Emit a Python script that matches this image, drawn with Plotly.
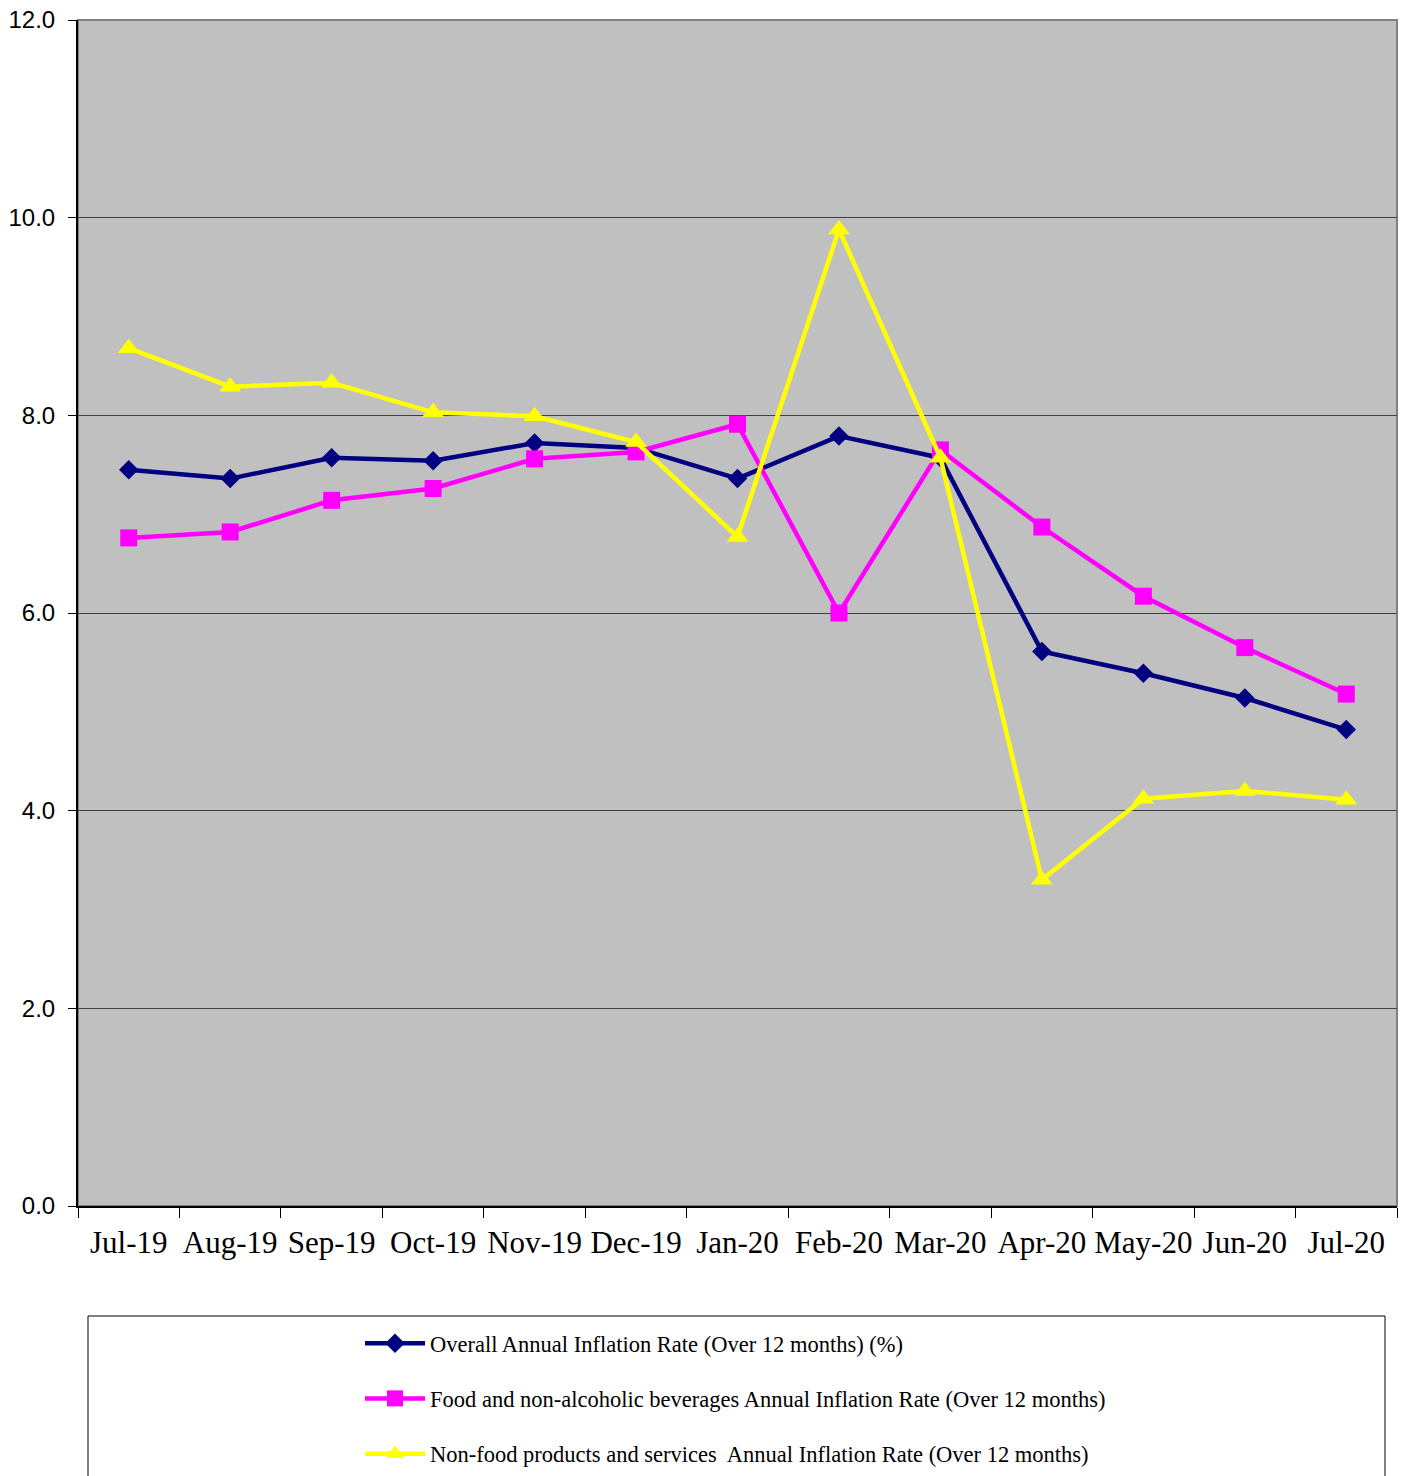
import plotly.graph_objects as go

months = ["Jul-19", "Aug-19", "Sep-19", "Oct-19", "Nov-19", "Dec-19", "Jan-20",
          "Feb-20", "Mar-20", "Apr-20", "May-20", "Jun-20", "Jul-20"]
overall = [7.45, 7.36, 7.57, 7.54, 7.72, 7.67, 7.36, 7.79, 7.57, 5.61, 5.39, 5.14, 4.82]
food = [6.76, 6.82, 7.14, 7.26, 7.56, 7.63, 7.91, 6.00, 7.65, 6.87, 6.17, 5.65, 5.18]
nonfood = [8.68, 8.29, 8.33, 8.03, 7.99, 7.73, 6.77, 9.88, 7.57, 3.30, 4.12, 4.20, 4.11]
y_ticks = [0, 2, 4, 6, 8, 10, 12]

names = ["Overall Annual Inflation Rate (Over 12 months) (%)",
         "Food and non-alcoholic beverages Annual Inflation Rate (Over 12 months)",
         "Non-food products and services  Annual Inflation Rate (Over 12 months)"]

fig = go.Figure()
fig.add_trace(go.Scatter(x=months, y=overall, name=names[0], mode="lines+markers",
                         line=dict(color="#000080", width=4.5),
                         marker=dict(symbol="diamond", size=15, color="#000080"),
                         legendgroup="a"))
fig.add_trace(go.Scatter(x=months, y=food, name=names[1], mode="lines+markers",
                         line=dict(color="#FF00FF", width=4.5),
                         marker=dict(symbol="square", size=17, color="#FF00FF"),
                         legendgroup="b"))
fig.add_trace(go.Scatter(x=months, y=nonfood, name=names[2], mode="lines+markers",
                         line=dict(color="#FFFF00", width=4.5),
                         marker=dict(symbol="triangle-up", size=19, color="#FFFF00"),
                         legendgroup="c"))

PW, PH = 1319, 1186
# plot-area border (gray top/right)
fig.add_shape(type="rect", xref="paper", yref="paper", x0=0, x1=1, y0=0, y1=1,
              line=dict(color="#808080", width=2), layer="below")
# legend box
fig.add_shape(type="rect", xref="paper", yref="paper",
              x0=(88 - 78) / PW, x1=(1385 - 78) / PW,
              y0=(1206 - 1490) / PH, y1=(1206 - 1316) / PH,
              line=dict(color="#000000", width=1))

fig.update_layout(
    width=1408, height=1476,
    margin=dict(l=70, r=19, t=12, b=278, autoexpand=False),
    plot_bgcolor="#C0C0C0", paper_bgcolor="white",
    showlegend=True,
    legend=dict(x=(360 - 78) / PW, xanchor="left",
                y=(1206 - 1322) / PH, yanchor="top",
                font=dict(family="Liberation Serif", size=22.5, color="black"),
                traceorder="grouped", tracegroupgap=23,
                bgcolor="rgba(0,0,0,0)", itemwidth=60),
    xaxis=dict(type="category", range=[-0.5, 12.5], showline=True, linecolor="black",
               linewidth=2, ticks="outside", tickson="boundaries", ticklen=10,
               tickcolor="black", showgrid=False, ticklabelstandoff=8, tickangle=0,
               ticklabeloverflow="allow",
               tickfont=dict(family="Liberation Serif", size=31, color="black")),
    yaxis=dict(range=[0, 12], tickvals=y_ticks, tickformat=".1f", showline=True,
               linecolor="black", linewidth=2, ticks="outside", ticklen=8,
               tickcolor="black", gridcolor="#404040", gridwidth=1,
               zeroline=False, ticklabelstandoff=8, ticklabeloverflow="allow",
               tickfont=dict(family="Liberation Sans", size=24, color="black")),
)

fig.write_html("out.html")
